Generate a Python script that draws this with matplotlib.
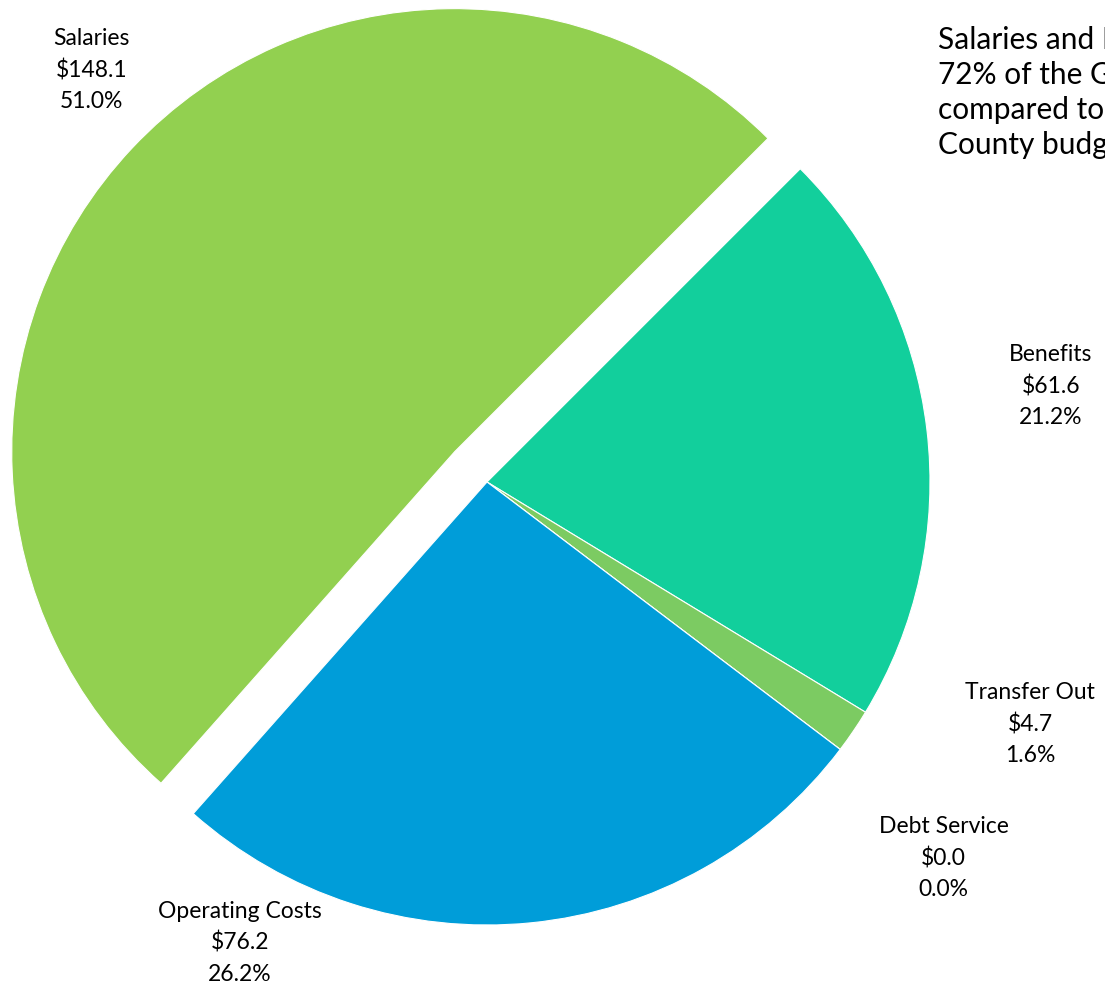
import matplotlib.pyplot as plt

# General Fund expenditures ($ millions)
categories = ["Salaries", "Benefits", "Transfer Out", "Debt Service", "Operating Costs"]
amounts = [148.1, 61.6, 4.7, 0.0, 76.2]
percents = [51.0, 21.2, 1.6, 0.0, 26.2]
colors = ["#92D050", "#12CF9C", "#7CCB62", "#4F81BD", "#009DD9"]
explode = [0.1, 0, 0, 0, 0]

# where each label block sits (pie radius = 1)
label_pos = [(-0.892, 0.930), (1.273, 0.217), (1.226, -0.546), (1.031, -0.849), (-0.558, -1.040)]

note = ("Salaries and Benefits are\n"
        "72% of the General Fund,\n"
        "compared to the overall\n"
        "County budget.")

plt.rcParams['font.family'] = ['Lato', 'DejaVu Sans']

fig = plt.figure(figsize=(11.05, 9.89), dpi=100)
ax = fig.add_axes([0, 0, 1, 1])

total = sum(amounts)
start = 45 + amounts[0] / total * 360
ax.pie(amounts, colors=colors, explode=explode, startangle=start, counterclock=False,
       radius=1.0, wedgeprops=dict(edgecolor="white", linewidth=0.8))

for name, amt, pct, (x, y) in zip(categories, amounts, percents, label_pos):
    ax.text(x, y, f"{name}\n${amt:.1f}\n{pct:.1f}%", ha="center", va="center",
            fontsize=16.5, linespacing=1.56, color="#000000")

ax.text(1.018, 1.030, note, ha="left", va="top", fontsize=21.5, linespacing=1.31,
        color="#000000")

ax.set_xlim(-487 / 443, (1105 - 487) / 443)
ax.set_ylim((482 - 989) / 443, 482 / 443)
ax.set_aspect("equal")
ax.axis("off")

plt.savefig("out.png", dpi=100)
plt.close()
